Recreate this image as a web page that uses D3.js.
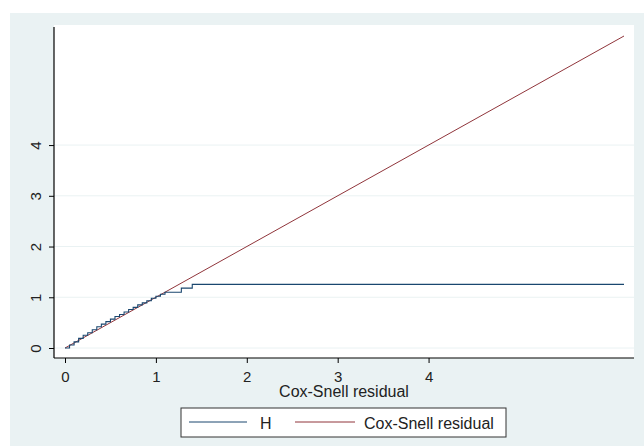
<!DOCTYPE html>
<html>
<head>
<meta charset="utf-8">
<script src="https://cdn.jsdelivr.net/npm/d3@7"></script>
<style>
  html, body { margin: 0; padding: 0; background: #fff; }
  svg { display: block; }
</style>
</head>
<body>
<div id="chart"></div>
<script>
// Nelson-Aalen cumulative hazard H of the Cox-Snell residuals (step function)
const hX = [0, 0.05, 0.1, 0.15, 0.2, 0.25, 0.3, 0.35, 0.4, 0.45, 0.5, 0.55, 0.6, 0.65, 0.7, 0.75, 0.8, 0.85, 0.9, 0.95, 1.0, 1.05, 1.1, 1.28, 1.4, 6.15];
const hY = [0, 0.06, 0.12, 0.19, 0.25, 0.3, 0.36, 0.42, 0.47, 0.52, 0.57, 0.62, 0.66, 0.71, 0.76, 0.8, 0.85, 0.89, 0.93, 0.98, 1.02, 1.06, 1.1, 1.18, 1.255, 1.255];
// reference line: Cox-Snell residual against itself
const csX = [0, 6.15];
const csY = [0, 6.15];
const xTicks = [0, 1, 2, 3, 4];
const yTicks = [0, 1, 2, 3, 4];
const legendLabels = ["H", "Cox-Snell residual"];

const width = 644, height = 446;
const plot = { left: 54, right: 634, top: 25, bottom: 358 };
const font = "'Liberation Sans', Arial, sans-serif";

const svg = d3.select("#chart").append("svg")
    .attr("width", width)
    .attr("height", height);

// graph region background
svg.append("rect")
    .attr("x", 10).attr("y", 13)
    .attr("width", width - 10).attr("height", height - 13)
    .attr("fill", "#eaf2f3");

// plot region
svg.append("rect")
    .attr("x", plot.left).attr("y", plot.top)
    .attr("width", plot.right - plot.left).attr("height", plot.bottom - plot.top)
    .attr("fill", "#fff");

const x = d3.scaleLinear().domain([0, 6.15]).range([65, 624]);
const y = d3.scaleLinear().domain([0, 6.15]).range([348, 36]);

// grid lines
svg.append("g")
    .selectAll("line")
    .data(yTicks)
    .enter()
    .append("line")
    .attr("x1", plot.left).attr("x2", plot.right)
    .attr("y1", d => y(d)).attr("y2", d => y(d))
    .attr("stroke", "#eaf2f3")
    .attr("stroke-width", 1);

// y axis
const yAxis = svg.append("g")
    .attr("transform", `translate(${plot.left},0)`)
    .call(d3.axisLeft(y).tickValues(yTicks).tickSize(5).tickPadding(10).tickFormat(d3.format("d")));
yAxis.select(".domain").remove();
yAxis.append("line")
    .attr("x1", 0).attr("x2", 0)
    .attr("y1", 27).attr("y2", plot.bottom)
    .attr("stroke", "#000").attr("stroke-width", 1.2);
yAxis.selectAll(".tick line").attr("stroke", "#000");
yAxis.selectAll(".tick text")
    .attr("font-family", font)
    .attr("font-size", 15)
    .attr("fill", "#222")
    .attr("text-anchor", "middle")
    .attr("dy", 0)
    .attr("transform", "translate(-19,0) rotate(-90)")
    .attr("x", 0)
    .attr("y", 0)
    .attr("dominant-baseline", "central");

// x axis
const xAxis = svg.append("g")
    .attr("transform", `translate(0,${plot.bottom})`)
    .call(d3.axisBottom(x).tickValues(xTicks).tickSize(5).tickPadding(8).tickFormat(d3.format("d")));
xAxis.select(".domain").remove();
xAxis.append("line")
    .attr("x1", plot.left).attr("x2", plot.right)
    .attr("y1", 0).attr("y2", 0)
    .attr("stroke", "#000").attr("stroke-width", 1.2);
xAxis.selectAll(".tick line").attr("stroke", "#000");
xAxis.selectAll(".tick text")
    .attr("font-family", font)
    .attr("font-size", 15)
    .attr("fill", "#222");

// axis title (sits just under the tick labels, as in the reference)
svg.append("text")
    .attr("x", 344)
    .attr("y", 397)
    .attr("text-anchor", "middle")
    .attr("font-family", font)
    .attr("font-size", 16)
    .attr("fill", "#222")
    .text("Cox-Snell residual");

// lines
const hLine = d3.line()
    .x(d => x(d[0]))
    .y(d => y(d[1]))
    .curve(d3.curveStepAfter);
const straight = d3.line()
    .x(d => x(d[0]))
    .y(d => y(d[1]));

svg.append("path")
    .datum(csX.map((v, i) => [v, csY[i]]))
    .attr("d", straight)
    .attr("fill", "none")
    .attr("stroke", "#90353b")
    .attr("stroke-width", 1);

svg.append("path")
    .datum(hX.map((v, i) => [v, hY[i]]))
    .attr("d", hLine)
    .attr("fill", "none")
    .attr("stroke", "#1a476f")
    .attr("stroke-width", 1.1);

// legend
const legend = svg.append("g");
legend.append("rect")
    .attr("x", 181).attr("y", 408)
    .attr("width", 325).attr("height", 29)
    .attr("fill", "#fff")
    .attr("stroke", "#333")
    .attr("stroke-width", 1);

const legendItems = [
    { label: legendLabels[0], color: "#1a476f", x1: 189, x2: 247, tx: 260 },
    { label: legendLabels[1], color: "#90353b", x1: 295, x2: 355, tx: 364 }
];
legendItems.forEach(item => {
    legend.append("line")
        .attr("x1", item.x1).attr("x2", item.x2)
        .attr("y1", 422).attr("y2", 422)
        .attr("stroke", item.color)
        .attr("stroke-width", 1);
    legend.append("text")
        .attr("x", item.tx)
        .attr("y", 429)
        .attr("font-family", font)
        .attr("font-size", 16)
        .attr("fill", "#222")
        .text(item.label);
});
</script>
</body>
</html>
